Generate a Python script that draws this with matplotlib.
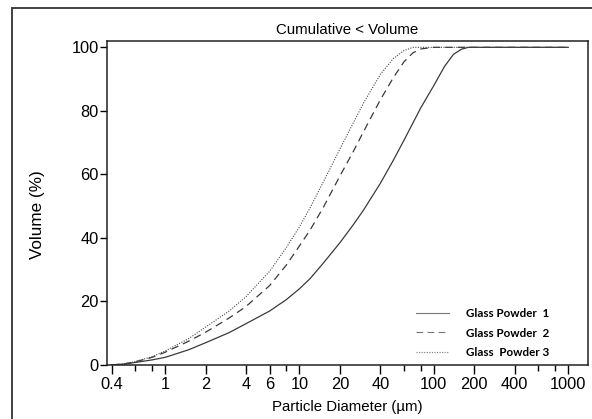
import matplotlib
matplotlib.use("Agg")
import matplotlib.pyplot as plt
from matplotlib.patches import Rectangle

# particle size (um) and cumulative volume (%)
size_1 = [0.4, 0.5, 0.6, 0.8, 1, 1.5, 2, 3, 4, 6, 8, 10, 12, 15, 20, 25, 30, 40, 50, 60, 80, 100, 120, 140, 160, 180, 1000]
vol_1 = [0, 0.3, 0.8, 1.6, 2.4, 4.8, 7, 10.2, 13, 17, 20.6, 24, 27.2, 32, 38.5, 44, 48.8, 57.2, 64.5, 70.8, 81, 88, 94, 97.8, 99.4, 100, 100]

size_2 = [0.4, 0.5, 0.6, 0.8, 1, 1.5, 2, 3, 4, 6, 8, 10, 12, 15, 20, 25, 30, 40, 50, 60, 70, 80, 100, 1000]
vol_2 = [0, 0.4, 1.0, 2.4, 4, 7.5, 10.3, 14.8, 18.4, 25, 31.5, 37.5, 42.5, 49.5, 59.5, 67, 73.5, 83.5, 90.5, 95.5, 98.3, 99.5, 100, 100]

size_3 = [0.4, 0.5, 0.6, 0.8, 1, 1.5, 2, 3, 4, 6, 8, 10, 12, 15, 20, 25, 30, 40, 50, 60, 70, 1000]
vol_3 = [0, 0.4, 1.1, 2.6, 4.4, 8.3, 11.9, 17, 21.5, 29.5, 37, 43.5, 49.5, 57.5, 68, 76, 82.5, 91.5, 96.5, 99, 100, 100]

labels = ["Glass Powder  1", "Glass Powder  2", "Glass  Powder 3"]

x_ticks = [0.4, 1, 2, 4, 6, 10, 20, 40, 100, 200, 400, 1000]
x_minor = [0.6, 0.8, 8, 60, 80, 600, 800]
y_ticks = [0, 20, 40, 60, 80, 100]

plt.rcParams['font.family'] = ['Liberation Sans', 'DejaVu Sans']

fig = plt.figure(figsize=(5.92, 4.19), dpi=100)
ax = fig.add_axes([107 / 592, 1 - 365 / 419, (587.5 - 107) / 592, (365 - 41) / 419])

line_col = '#3a3a3a'
l1, = ax.plot(size_1, vol_1, color=line_col, lw=0.9, ls='-')
l2, = ax.plot(size_2, vol_2, color=line_col, lw=0.9, ls=(0, (6, 4)))
l3, = ax.plot(size_3, vol_3, color='#4a4a4a', lw=0.8, ls=(0, (1, 1.3)))

ax.set_xscale('log')
ax.set_xlim(0.37, 1390)
ax.set_ylim(0, 102)

ax.set_xticks(x_ticks)
ax.set_xticklabels([str(t) for t in x_ticks])
ax.set_xticks(x_minor, minor=True)
ax.set_xticklabels([], minor=True)
ax.set_yticks(y_ticks)

ax.tick_params(axis='x', which='major', length=6.5, width=1, labelsize=11.8, pad=2)
ax.tick_params(axis='x', which='minor', length=4.3, width=1)
ax.tick_params(axis='y', length=5, width=1, labelsize=11.8, pad=1)
for s in ax.spines.values():
    s.set_linewidth(1.1)
    s.set_color('#222222')

ax.set_title("Cumulative < Volume", fontsize=10.8, pad=5)
ax.set_xlabel("Particle Diameter (\u00b5m)", fontsize=10.8, labelpad=6)
ax.set_ylabel("Volume (%)", fontsize=12.3)
ax.yaxis.set_label_coords(-0.128, 0.465)

leg = ax.legend([l1, l2, l3], labels, loc='upper left', bbox_to_anchor=(0.622, 0.208),
                frameon=False, handlelength=2.8, handletextpad=1.45, labelspacing=0.72,
                prop={'family': 'Lato', 'weight': 'bold', 'size': 8.4})
for h in leg.get_lines():
    h.set_color('#777777')
    h.set_linewidth(0.8)

# outer frame of the scanned figure
fig.patches.append(Rectangle((12 / 592, -0.1), 1.2, 1 - 8 / 419 + 0.1, transform=fig.transFigure,
                             fill=False, lw=1.3, ec='#333333', clip_on=False))

fig.savefig("out.png", dpi=100)
